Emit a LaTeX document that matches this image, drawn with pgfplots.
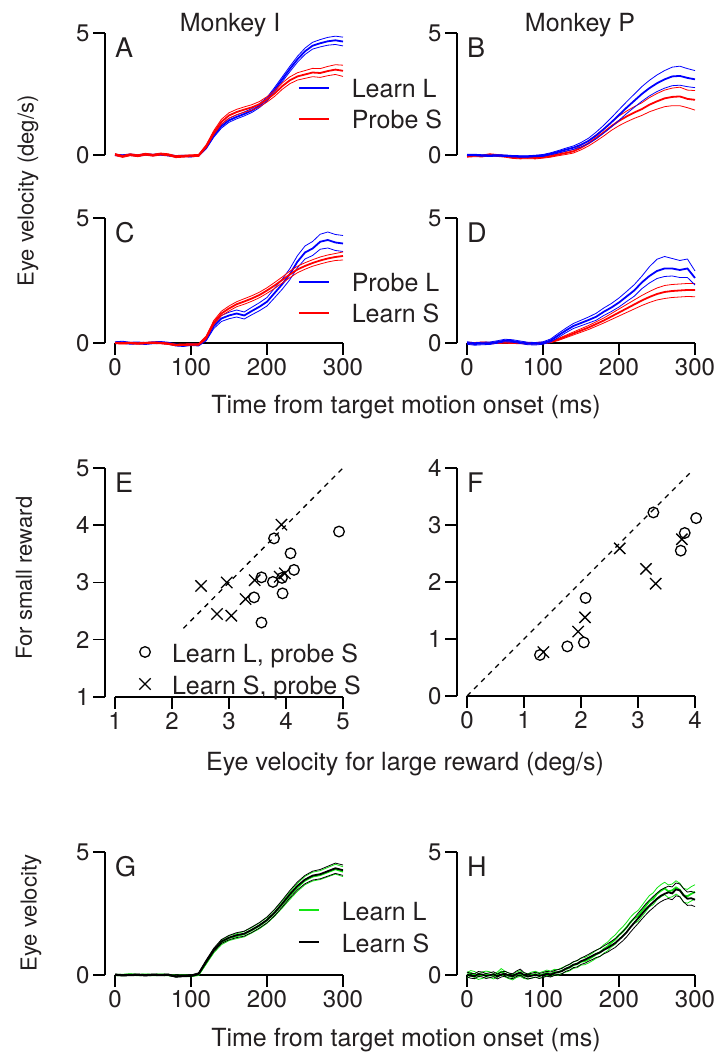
\documentclass[border=0pt]{standalone}
\usepackage{fontspec}
\setmainfont{TeX Gyre Heros}
\usepackage{pgfplots}
\usepackage{pgfplotstable}
\pgfplotsset{compat=1.18}

\definecolor{cblue}{RGB}{0,0,255}
\definecolor{cred}{RGB}{255,0,0}
\definecolor{cgreen}{RGB}{20,230,20}
\definecolor{txt}{RGB}{35,31,32}

% ---------------- Panel A ----------------
\pgfplotstableread{
t m lo hi
0 0.00 -0.03 0.03
10 -0.02 -0.05 0.01
20 0.01 -0.02 0.04
30 -0.02 -0.05 0.01
40 0.02 -0.01 0.05
50 0.00 -0.03 0.03
60 0.02 -0.01 0.05
70 -0.01 -0.04 0.02
80 -0.05 -0.08 -0.02
90 -0.04 -0.07 -0.01
100 -0.05 -0.08 -0.02
110 -0.02 -0.05 0.01
120 0.30 0.25 0.35
130 0.80 0.73 0.87
140 1.18 1.10 1.26
150 1.42 1.34 1.50
160 1.56 1.48 1.64
170 1.68 1.60 1.76
180 1.82 1.74 1.90
190 2.02 1.94 2.10
200 2.28 2.20 2.36
210 2.68 2.59 2.77
220 3.10 3.00 3.20
230 3.52 3.41 3.63
240 3.92 3.80 4.04
250 4.25 4.12 4.38
260 4.48 4.34 4.62
270 4.58 4.43 4.73
280 4.66 4.50 4.82
290 4.70 4.53 4.87
300 4.65 4.47 4.83
}\tAb
\pgfplotstableread{
t m lo hi
0 0.02 -0.02 0.06
10 -0.06 -0.10 -0.02
20 0.01 -0.03 0.05
30 -0.03 -0.07 0.01
40 0.03 -0.01 0.07
50 -0.01 -0.05 0.03
60 0.04 0.00 0.08
70 0.01 -0.03 0.05
80 -0.07 -0.11 -0.03
90 -0.05 -0.09 -0.01
100 -0.03 -0.07 0.01
110 -0.02 -0.06 0.02
120 0.36 0.30 0.42
130 0.92 0.84 1.00
140 1.36 1.26 1.46
150 1.62 1.51 1.73
160 1.76 1.65 1.87
170 1.86 1.75 1.97
180 1.95 1.84 2.06
190 2.08 1.97 2.19
200 2.28 2.17 2.39
210 2.52 2.40 2.64
220 2.82 2.69 2.95
230 3.06 2.92 3.20
240 3.22 3.07 3.37
250 3.30 3.14 3.46
260 3.38 3.21 3.55
270 3.36 3.18 3.54
280 3.44 3.25 3.63
290 3.50 3.30 3.70
300 3.45 3.22 3.68
}\tAr
% ---------------- Panel B ----------------
\pgfplotstableread{
t m lo hi
0 0.00 -0.03 0.03
10 0.00 -0.03 0.03
20 -0.02 -0.05 0.01
30 -0.03 -0.06 0.00
40 -0.02 -0.05 0.01
50 -0.03 -0.06 0.00
60 -0.05 -0.08 -0.02
70 -0.06 -0.09 -0.03
80 -0.06 -0.09 -0.03
90 -0.04 -0.07 -0.01
100 -0.02 -0.06 0.02
110 0.05 0.01 0.09
120 0.13 0.08 0.18
130 0.22 0.16 0.28
140 0.30 0.23 0.37
150 0.42 0.33 0.51
160 0.58 0.47 0.69
170 0.80 0.66 0.94
180 1.06 0.90 1.22
190 1.34 1.15 1.53
200 1.64 1.42 1.86
210 1.94 1.70 2.18
220 2.22 1.95 2.49
230 2.50 2.20 2.80
240 2.74 2.42 3.06
250 2.94 2.60 3.28
260 3.10 2.74 3.46
270 3.22 2.84 3.60
280 3.24 2.86 3.64
290 3.16 2.80 3.54
300 3.10 2.76 3.46
}\tBb
\pgfplotstableread{
t m lo hi
0 -0.05 -0.09 -0.01
10 -0.03 -0.07 0.01
20 -0.04 -0.08 0.00
30 0.01 -0.03 0.05
40 -0.02 -0.06 0.02
50 -0.05 -0.09 -0.01
60 -0.10 -0.14 -0.06
70 -0.12 -0.16 -0.08
80 -0.11 -0.15 -0.07
90 -0.12 -0.16 -0.08
100 -0.09 -0.13 -0.05
110 -0.05 -0.09 -0.01
120 0.02 -0.03 0.07
130 0.08 0.02 0.14
140 0.15 0.08 0.22
150 0.30 0.21 0.39
160 0.48 0.37 0.59
170 0.70 0.57 0.83
180 0.93 0.78 1.08
190 1.18 1.01 1.35
200 1.40 1.20 1.60
210 1.58 1.36 1.80
220 1.74 1.50 1.98
230 1.88 1.62 2.14
240 2.06 1.77 2.35
250 2.20 1.88 2.52
260 2.32 1.98 2.66
270 2.38 2.02 2.74
280 2.40 2.02 2.78
290 2.30 1.94 2.66
300 2.26 1.84 2.64
}\tBr
% ---------------- Panel C ----------------
\pgfplotstableread{
t m lo hi
0 0.01 -0.03 0.05
10 0.03 -0.01 0.07
20 -0.01 -0.05 0.03
30 0.00 -0.04 0.04
40 -0.02 -0.06 0.02
50 0.01 -0.03 0.05
60 0.02 -0.02 0.06
70 -0.01 -0.05 0.03
80 -0.08 -0.12 -0.04
90 -0.10 -0.14 -0.06
100 -0.06 -0.10 -0.02
110 -0.08 -0.12 -0.04
120 0.15 0.09 0.21
130 0.68 0.58 0.78
140 0.98 0.86 1.10
150 1.10 0.97 1.23
160 1.18 1.04 1.32
170 1.10 0.96 1.24
180 1.28 1.13 1.43
190 1.45 1.29 1.61
200 1.65 1.48 1.82
210 2.00 1.81 2.19
220 2.35 2.15 2.55
230 2.75 2.53 2.97
240 3.25 3.01 3.49
250 3.62 3.36 3.88
260 3.78 3.50 4.06
270 4.05 3.75 4.35
280 4.12 3.80 4.44
290 4.02 3.70 4.34
300 3.98 3.66 4.30
}\tCb
\pgfplotstableread{
t m lo hi
0 0.00 -0.03 0.03
10 -0.01 -0.04 0.02
20 0.00 -0.03 0.03
30 -0.02 -0.05 0.01
40 0.00 -0.03 0.03
50 0.01 -0.02 0.04
60 0.00 -0.03 0.03
70 -0.03 -0.06 0.00
80 -0.08 -0.11 -0.05
90 -0.07 -0.10 -0.04
100 -0.06 -0.09 -0.03
110 -0.06 -0.09 -0.03
120 0.22 0.16 0.28
130 0.82 0.74 0.90
140 1.18 1.09 1.27
150 1.38 1.28 1.48
160 1.55 1.45 1.65
170 1.66 1.55 1.77
180 1.78 1.67 1.89
190 1.92 1.81 2.03
200 2.10 1.99 2.21
210 2.30 2.18 2.42
220 2.52 2.40 2.64
230 2.74 2.61 2.87
240 2.94 2.81 3.07
250 3.08 2.95 3.21
260 3.20 3.07 3.33
270 3.30 3.16 3.44
280 3.38 3.24 3.52
290 3.44 3.30 3.58
300 3.48 3.32 3.64
}\tCr
% ---------------- Panel D ----------------
\pgfplotstableread{
t m lo hi
0 0.00 -0.05 0.05
10 -0.04 -0.09 0.01
20 -0.02 -0.07 0.03
30 -0.01 -0.06 0.04
40 0.04 -0.01 0.09
50 0.10 0.05 0.15
60 0.08 0.03 0.13
70 0.03 -0.02 0.08
80 -0.02 -0.07 0.03
90 -0.03 -0.08 0.02
100 0.00 -0.05 0.05
110 0.10 0.04 0.16
120 0.30 0.22 0.38
130 0.50 0.41 0.59
140 0.68 0.58 0.78
150 0.80 0.69 0.91
160 0.92 0.80 1.04
170 1.05 0.91 1.19
180 1.25 1.10 1.40
190 1.42 1.26 1.58
200 1.62 1.44 1.80
210 1.86 1.66 2.06
220 2.10 1.87 2.33
230 2.42 2.17 2.67
240 2.68 2.40 3.05
250 2.88 2.58 3.35
260 2.98 2.66 3.46
270 2.98 2.68 3.38
280 2.92 2.62 3.30
290 2.98 2.62 3.36
300 2.60 2.32 2.88
}\tDb
\pgfplotstableread{
t m lo hi
0 0.00 -0.03 0.03
10 -0.01 -0.04 0.02
20 0.01 -0.02 0.04
30 0.00 -0.03 0.03
40 0.01 -0.02 0.04
50 0.02 -0.01 0.05
60 0.01 -0.02 0.04
70 0.00 -0.03 0.03
80 -0.01 -0.04 0.02
90 -0.01 -0.04 0.02
100 0.00 -0.03 0.03
110 0.04 0.01 0.07
120 0.14 0.10 0.18
130 0.26 0.21 0.31
140 0.38 0.32 0.44
150 0.50 0.43 0.57
160 0.62 0.54 0.70
170 0.76 0.67 0.85
180 0.90 0.80 1.00
190 1.06 0.94 1.18
200 1.22 1.08 1.36
210 1.38 1.22 1.54
220 1.54 1.36 1.72
230 1.70 1.50 1.90
240 1.84 1.62 2.06
250 1.96 1.72 2.20
260 2.04 1.78 2.30
270 2.08 1.82 2.34
280 2.10 1.84 2.36
290 2.12 1.86 2.38
300 2.12 1.85 2.38
}\tDr
% ---------------- Panel G ----------------
\pgfplotstableread{
t m lo hi
0 0.00 -0.03 0.03
10 0.00 -0.03 0.03
20 0.02 -0.01 0.05
30 0.00 -0.03 0.03
40 0.01 -0.02 0.04
50 0.00 -0.03 0.03
60 0.01 -0.02 0.04
70 0.00 -0.03 0.03
80 -0.04 -0.07 -0.01
90 -0.03 -0.06 0.00
100 -0.04 -0.07 -0.01
110 0.02 -0.02 0.06
120 0.50 0.44 0.56
130 0.98 0.90 1.06
140 1.32 1.23 1.41
150 1.50 1.40 1.60
160 1.58 1.48 1.68
170 1.66 1.55 1.77
180 1.82 1.71 1.93
190 2.00 1.88 2.12
200 2.22 2.10 2.34
210 2.52 2.39 2.65
220 2.86 2.72 3.00
230 3.22 3.07 3.37
240 3.56 3.40 3.72
250 3.84 3.67 4.01
260 4.00 3.82 4.18
270 4.06 3.88 4.24
280 4.18 3.99 4.37
290 4.30 4.10 4.50
300 4.20 4.00 4.40
}\tGg
\pgfplotstableread{
t m lo hi
0 0.01 -0.02 0.04
10 -0.01 -0.04 0.02
20 0.00 -0.03 0.03
30 0.01 -0.02 0.04
40 -0.01 -0.04 0.02
50 0.01 -0.02 0.04
60 0.00 -0.03 0.03
70 0.01 -0.02 0.04
80 -0.06 -0.09 -0.03
90 -0.04 -0.07 -0.01
100 -0.03 -0.06 0.00
110 0.05 0.01 0.09
120 0.55 0.49 0.61
130 1.02 0.95 1.09
140 1.36 1.28 1.44
150 1.52 1.43 1.61
160 1.62 1.52 1.72
170 1.68 1.58 1.78
180 1.84 1.73 1.95
190 2.02 1.91 2.13
200 2.24 2.12 2.36
210 2.54 2.41 2.67
220 2.90 2.76 3.04
230 3.28 3.13 3.43
240 3.62 3.46 3.78
250 3.88 3.71 4.05
260 4.04 3.86 4.22
270 4.10 3.91 4.29
280 4.22 4.02 4.42
290 4.34 4.13 4.55
300 4.26 4.05 4.47
}\tGk
% ---------------- Panel H ----------------
\pgfplotstableread{
t m lo hi
0 0.00 -0.12 0.10
5 0.08 -0.04 0.18
10 0.02 -0.10 0.14
15 -0.06 -0.18 0.05
20 -0.02 -0.14 0.12
25 0.05 -0.08 0.16
30 0.00 -0.10 0.13
35 -0.05 -0.16 0.06
40 0.03 -0.09 0.12
45 0.14 0.02 0.26
50 0.04 -0.08 0.15
55 -0.04 -0.15 0.08
60 -0.08 -0.20 0.03
65 0.02 -0.10 0.12
70 0.06 -0.06 0.18
75 -0.03 -0.14 0.08
80 -0.06 -0.17 0.05
85 0.00 -0.12 0.12
90 0.04 -0.08 0.15
95 -0.02 -0.13 0.09
100 0.03 -0.09 0.14
105 0.09 -0.02 0.20
110 0.04 -0.07 0.16
115 0.12 0.01 0.23
120 0.10 -0.01 0.22
125 0.18 0.06 0.30
130 0.24 0.12 0.36
135 0.30 0.17 0.42
140 0.40 0.27 0.53
145 0.44 0.30 0.58
150 0.54 0.40 0.68
155 0.56 0.42 0.71
160 0.64 0.49 0.79
165 0.74 0.58 0.89
170 0.84 0.68 1.00
175 0.92 0.75 1.09
180 1.06 0.89 1.23
185 1.16 0.98 1.34
190 1.32 1.14 1.50
195 1.44 1.25 1.63
200 1.62 1.43 1.81
205 1.76 1.56 1.96
210 1.94 1.74 2.14
215 2.14 1.93 2.35
220 2.30 2.09 2.51
225 2.40 2.18 2.62
230 2.60 2.38 2.82
235 2.80 2.57 3.03
240 3.00 2.77 3.23
245 3.10 2.86 3.34
250 3.30 3.06 3.54
255 3.42 3.17 3.67
260 3.52 3.27 3.77
265 3.40 3.14 3.66
270 3.44 3.18 3.70
275 3.56 3.29 3.83
280 3.46 3.19 3.73
285 3.24 2.96 3.52
290 3.20 2.92 3.48
295 3.30 3.01 3.59
300 3.38 3.09 3.67
}\tHg
\pgfplotstableread{
t m lo hi
0 0.02 -0.08 0.12
5 -0.03 -0.13 0.07
10 -0.05 -0.15 0.05
15 0.04 -0.06 0.14
20 0.02 -0.08 0.12
25 -0.04 -0.14 0.06
30 -0.01 -0.11 0.09
35 0.03 -0.07 0.13
40 -0.06 -0.16 0.04
45 0.02 -0.08 0.12
50 0.05 -0.05 0.15
55 -0.02 -0.12 0.08
60 -0.05 -0.15 0.05
65 0.04 -0.06 0.16
70 0.10 -0.02 0.24
75 0.00 -0.10 0.10
80 -0.06 -0.16 0.04
85 -0.03 -0.13 0.07
90 0.01 -0.09 0.11
95 -0.04 -0.14 0.06
100 0.00 -0.10 0.10
105 0.05 -0.05 0.15
110 0.02 -0.08 0.12
115 0.08 -0.02 0.18
120 0.12 0.02 0.22
125 0.16 0.05 0.27
130 0.26 0.15 0.37
135 0.32 0.20 0.44
140 0.42 0.30 0.54
145 0.46 0.33 0.59
150 0.56 0.43 0.69
155 0.62 0.48 0.76
160 0.70 0.56 0.84
165 0.78 0.63 0.93
170 0.86 0.71 1.01
175 0.92 0.76 1.08
180 1.02 0.86 1.18
185 1.10 0.93 1.27
190 1.20 1.03 1.37
195 1.30 1.12 1.48
200 1.44 1.26 1.62
205 1.58 1.39 1.77
210 1.74 1.55 1.93
215 1.94 1.74 2.14
220 2.12 1.92 2.32
225 2.30 2.09 2.51
230 2.48 2.27 2.69
235 2.66 2.44 2.88
240 2.82 2.60 3.04
245 2.96 2.73 3.19
250 3.10 2.87 3.33
255 3.22 2.98 3.46
260 3.30 3.06 3.54
265 3.36 3.11 3.61
270 3.32 3.06 3.58
275 3.48 3.22 3.74
280 3.44 3.18 3.70
285 3.24 2.97 3.51
290 3.10 2.83 3.37
295 3.12 2.84 3.40
300 3.06 2.78 3.34
}\tHk

\pgfplotsset{
  base/.style={scale only axis, width=238pt,
    axis y line*=left, axis x line*=bottom,
    x axis line style={shorten <=10pt},
    axis line style={line width=1.5pt, black},
    tick align=outside, major tick length=12pt,
    tick style={line width=1.5pt, black},
    tick label style={font=\fontsize{24}{28}\selectfont, text=txt},
    /pgf/number format/assume math mode=true,
    clip=false, enlargelimits=false,
    legend cell align=left},
  tp/.style={base, xmin=-13.1579, xmax=300, ymin=0, ymax=5,
    xtick={0,100,200,300}, ytick={0,5}},
  noxaxis/.style={axis x line=none, xtick=\empty},
  linelegend/.style n args={3}{
    legend image code/.code={\path[draw=none, fill=none] (0pt,-5pt) rectangle (#1,17pt);
      \draw[##1] (0pt,4pt) -- (#1,4pt);},
    legend style={draw=none, fill=none, inner sep=0pt, outer sep=0pt,
      row sep=#3, column sep=22pt, at={#2}, anchor=north west,
      font=\fontsize{25}{30}\selectfont, text=txt,
      nodes={inner sep=0pt, text height=17pt, text depth=5pt}}},
}

\newcommand{\trio}[2]{%
  \addplot[#2, line width=0.8pt, forget plot] table[x=t,y=lo]{#1};
  \addplot[#2, line width=0.8pt, forget plot] table[x=t,y=hi]{#1};
  \addplot[#2, line width=1.8pt] table[x=t,y=m]{#1};
}
\newcommand{\plabel}[3]{\node[anchor=base west, inner sep=0pt,
  font=\fontsize{27}{30}\selectfont, text=txt, yshift=-24.5pt] at (axis cs:#1,#2) {#3};}

\begin{document}
\begin{tikzpicture}
\useasboundingbox (0,0) rectangle (719pt,1054pt);

% A
\begin{axis}[tp, noxaxis, height=122pt, at={(105pt,899pt)}, anchor=south west,
  linelegend={30pt}{(rel axis cs:0.811,0.656)}{3pt}]
\trio{\tAb}{cblue}
\addlegendentry{Learn L}
\trio{\tAr}{cred}
\addlegendentry{Probe S}
\plabel{0}{5}{A}
\end{axis}

% B
\begin{axis}[tp, noxaxis, height=122pt, at={(457pt,899pt)}, anchor=south west]
\trio{\tBr}{cred}
\trio{\tBb}{cblue}
\plabel{0}{5}{B}
\end{axis}

% C
\begin{axis}[tp, height=125pt, at={(105pt,711pt)}, anchor=south west,
  linelegend={30pt}{(rel axis cs:0.811,0.592)}{3pt}]
\trio{\tCb}{cblue}
\addlegendentry{Probe L}
\trio{\tCr}{cred}
\addlegendentry{Learn S}
\plabel{0}{5}{C}
\end{axis}

% D
\begin{axis}[tp, height=125pt, at={(457pt,711pt)}, anchor=south west]
\trio{\tDr}{cred}
\trio{\tDb}{cblue}
\plabel{0}{5}{D}
\end{axis}

% E
\begin{axis}[base, height=229pt, at={(105pt,357pt)}, anchor=south west,
  xmin=0.82456, xmax=5, ymin=1, ymax=5, xtick={1,2,3,4,5}, ytick={1,2,3,4,5},
  legend image code/.code={\path[draw=none, fill=none] (0pt,-5pt) rectangle (12pt,17pt);
    \draw[#1] plot coordinates {(6pt,5pt)};},
  legend style={draw=none, fill=none, inner sep=0pt, outer sep=0pt,
    row sep=4pt, column sep=21pt, at={(rel axis cs:0.143,0.249)}, anchor=north west,
    font=\fontsize{25}{30}\selectfont, text=txt,
    nodes={inner sep=0pt, text height=17pt, text depth=5pt}}]
\addplot[black, line width=1.3pt, dash pattern=on 5pt off 5pt, forget plot] coordinates {(2.2,2.2) (5,5)};
\addplot[only marks, mark=o, mark size=5.3pt, line width=1.3pt, black] coordinates {
(4.93,3.89) (3.79,3.77) (4.08,3.51) (4.14,3.22) (3.57,3.09) (3.77,3.01)
(3.94,2.81) (3.44,2.74) (3.57,2.30) (3.93,3.08)};
\addlegendentry{Learn L, probe S}
\addplot[only marks, mark=x, mark size=8pt, line width=1.3pt, black] coordinates {
(3.92,4.01) (2.51,2.94) (2.96,3.00) (3.45,3.04) (3.29,2.71) (2.79,2.45)
(3.04,2.42) (3.89,3.10) (3.98,3.16)};
\addlegendentry{Learn S, probe S}
\plabel{1}{5}{E}
\end{axis}

% F
\begin{axis}[base, height=228pt, at={(457pt,358pt)}, anchor=south west,
  xmin=-0.17544, xmax=4, ymin=0, ymax=4, xtick={0,1,2,3,4}, ytick={0,1,2,3,4}]
\addplot[black, line width=1.3pt, dash pattern=on 5pt off 5pt] coordinates {(0,0) (3.94,3.94)};
\addplot[only marks, mark=o, mark size=5.3pt, line width=1.3pt, black] coordinates {
(3.27,3.22) (4.02,3.12) (3.82,2.86) (3.75,2.55) (2.08,1.72) (1.76,0.87)
(2.05,0.94) (1.28,0.72)};
\addplot[only marks, mark=x, mark size=8pt, line width=1.3pt, black] coordinates {
(2.68,2.59) (3.14,2.23) (3.31,1.97) (3.77,2.75) (2.07,1.38) (1.95,1.13) (1.34,0.77)};
\plabel{0}{4}{F}
\end{axis}

% G
\begin{axis}[tp, height=123pt, at={(105pt,79pt)}, anchor=south west,
  linelegend={20pt}{(rel axis cs:0.811,0.634)}{4pt}]
\trio{\tGg}{cgreen}
\addlegendentry{Learn L}
\trio{\tGk}{black}
\addlegendentry{Learn S}
\plabel{0}{5}{G}
\end{axis}

% H
\begin{axis}[tp, height=123pt, at={(457pt,79pt)}, anchor=south west]
\trio{\tHg}{cgreen}
\trio{\tHk}{black}
\plabel{0}{5}{H}
\end{axis}

% titles and labels
\begin{scope}[every node/.style={text=txt}]
\node[anchor=base, font=\fontsize{25}{30}\selectfont] at (230pt,1022pt) {Monkey I};
\node[anchor=base, font=\fontsize{25}{30}\selectfont] at (580pt,1022pt) {Monkey P};
\node[rotate=90, font=\fontsize{22}{26}\selectfont] at (28pt,863pt) {Eye velocity (deg/s)};
\node[anchor=base, font=\fontsize{25}{30}\selectfont] at (406pt,640pt) {Time from target motion onset (ms)};
\node[rotate=90, font=\fontsize{22}{26}\selectfont] at (24pt,476pt) {For small reward};
\node[anchor=base, font=\fontsize{25}{30}\selectfont] at (405pt,283pt) {Eye velocity for large reward (deg/s)};
\node[rotate=90, font=\fontsize{22}{26}\selectfont] at (31pt,141pt) {Eye velocity};
\node[anchor=base, font=\fontsize{25}{30}\selectfont] at (406pt,7pt) {Time from target motion onset (ms)};
\end{scope}
\end{tikzpicture}
\end{document}
